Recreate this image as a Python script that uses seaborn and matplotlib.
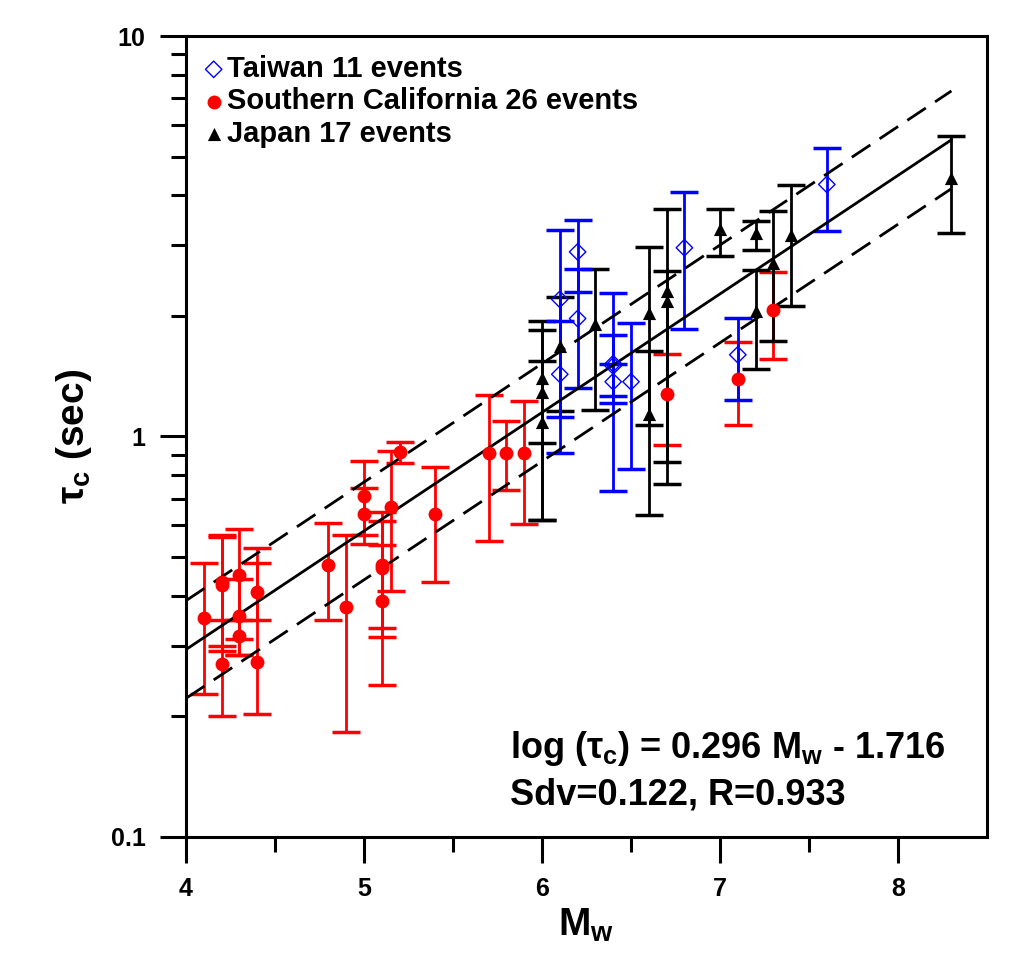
import numpy as np
import matplotlib
matplotlib.use("Agg")
import matplotlib.pyplot as plt
from matplotlib.ticker import FixedLocator, NullFormatter, FixedFormatter
import seaborn as sns

# Taiwan 11 events
mw_tw = [6.1, 6.1, 6.2, 6.2, 6.4, 6.4, 6.4, 6.5, 6.8, 7.1, 7.6]
tau_tw = [2.20, 1.43, 2.89, 1.97, 1.52, 1.50, 1.37, 1.37, 2.96, 1.60, 4.26]
lo_tw = [1.12, 0.91, 2.29, 1.32, 0.73, 1.26, 1.21, 0.83, 1.85, 1.23, 3.26]
hi_tw = [3.27, 1.94, 3.47, 2.62, 2.28, 1.79, 1.52, 1.92, 4.07, 1.98, 5.26]

# Southern California 26 events
mw_sc = [4.1, 4.2, 4.2, 4.2, 4.3, 4.3, 4.3, 4.4, 4.4, 4.8, 4.9, 5.0, 5.0,
         5.1, 5.1, 5.1, 5.15, 5.2, 5.4, 5.7, 5.8, 5.9, 6.7, 7.1, 7.3]
tau_sc = [0.353, 0.432, 0.425, 0.271, 0.450, 0.357, 0.317, 0.410, 0.274,
          0.479, 0.376, 0.710, 0.641, 0.479, 0.470, 0.388, 0.668, 0.914,
          0.639, 0.907, 0.907, 0.907, 1.280, 1.393, 2.064]
lo_sc = [0.228, 0.299, 0.292, 0.200, 0.313, 0.284, 0.284, 0.348, 0.203,
         0.349, 0.183, 0.540, 0.566, 0.315, 0.333, 0.240, 0.411, 0.860,
         0.434, 0.547, 0.734, 0.606, 0.951, 1.071, 1.563]
hi_sc = [0.482, 0.566, 0.560, 0.349, 0.589, 0.440, 0.349, 0.528, 0.482,
         0.609, 0.566, 0.868, 0.745, 0.647, 0.614, 0.535, 0.919, 0.968,
         0.840, 1.266, 1.092, 1.225, 1.609, 1.724, 2.572]

# Japan 17 events
mw_jp = [6.0, 6.0, 6.0, 6.1, 6.3, 6.6, 6.6, 6.7, 6.7, 7.0, 7.2, 7.2, 7.3, 7.4, 8.3]
tau_jp = [1.402, 1.290, 1.086, 1.687, 1.904, 2.036, 1.135, 2.306, 2.177,
          3.288, 3.226, 2.055, 2.715, 3.176, 4.426]
lo_jp = [0.965, 0.618, 0.618, 1.157, 1.163, 1.071, 0.635, 0.763, 0.863,
         2.83, 2.919, 1.476, 1.729, 2.116, 3.213]
hi_jp = [1.941, 1.840, 1.542, 2.228, 2.623, 2.970, 1.633, 3.703, 2.587,
         3.69, 3.449, 2.61, 3.653, 4.234, 5.62]

# regression from the figure text
slope, intercept, sdv = 0.296, -1.716, 0.122
fit_mw = [4.0, 8.3]

sns.set_style("ticks")
plt.rcParams['font.family'] = ['Liberation Sans', 'DejaVu Sans']
plt.rcParams['font.weight'] = 'bold'
plt.rcParams['mathtext.fontset'] = 'custom'
plt.rcParams['mathtext.rm'] = 'Liberation Sans:bold'
plt.rcParams['mathtext.it'] = 'Liberation Sans:bold'
plt.rcParams['mathtext.bf'] = 'Liberation Sans:bold'
for k in ('text.color', 'axes.labelcolor', 'xtick.color', 'ytick.color', 'axes.edgecolor'):
    plt.rcParams[k] = 'black'

fig = plt.figure(figsize=(10.24, 9.55), dpi=100)
ax = fig.add_axes([0.1816, 0.1236, 0.7823, 0.8387])


def bars(mw, tau, lo, hi, col):
    tau = np.array(tau)
    err = [tau - np.array(lo), np.array(hi) - tau]
    ax.errorbar(mw, tau, yerr=err, fmt='none', ecolor=col, elinewidth=2,
                capsize=10, capthick=2.5, zorder=2)


bars(mw_sc, tau_sc, lo_sc, hi_sc, 'red')
bars(mw_jp, tau_jp, lo_jp, hi_jp, 'black')
bars(mw_tw, tau_tw, lo_tw, hi_tw, 'blue')

fx = np.array(fit_mw)
fy = slope * fx + intercept
sns.lineplot(x=fx, y=10 ** fy, color='black', lw=2, ax=ax, zorder=3)
for off in (sdv, -sdv):
    sns.lineplot(x=fx, y=10 ** (fy + off), color='black', lw=2,
                 ax=ax, zorder=3).lines[-1].set_dashes((8, 4))

sns.scatterplot(x=mw_tw, y=tau_tw, marker='D', s=70, facecolors='none',
                edgecolors='blue', linewidths=1, label='Taiwan 11 events',
                ax=ax, zorder=4)
sns.scatterplot(x=mw_sc, y=tau_sc, marker='o', s=100, color='red', linewidth=0,
                label='Southern California 26 events', ax=ax, zorder=4)
sns.scatterplot(x=mw_jp, y=tau_jp, marker='^', s=90, color='black', linewidth=0,
                label='Japan 17 events', ax=ax, zorder=4)

ax.set_yscale('log')
ax.set_xlim(4, 8.5)
ax.set_ylim(0.1, 10)
ax.xaxis.set_major_locator(FixedLocator([4, 5, 6, 7, 8]))
ax.xaxis.set_minor_locator(FixedLocator([4.5, 5.5, 6.5, 7.5]))
ax.yaxis.set_major_locator(FixedLocator([0.1, 1, 10]))
ax.yaxis.set_major_formatter(FixedFormatter(['0.1', '1', '10']))
ax.yaxis.set_minor_locator(FixedLocator([k * 10.0 ** e for e in (-1, 0) for k in range(2, 10)]))
ax.yaxis.set_minor_formatter(NullFormatter())
ax.tick_params(which='major', length=19, width=2.2, labelsize=18, pad=10)
ax.tick_params(which='minor', length=11, width=2.2)
for sp in ax.spines.values():
    sp.set_linewidth(2.2)
    sp.set_visible(True)

ax.set_xlabel(r'M$_\mathrm{w}$', fontsize=28, fontweight='bold', labelpad=4)
ax.set_ylabel(r'$\tau_\mathrm{c}$ (sec)', fontsize=28, fontweight='bold', labelpad=12)

ax.text(0.405, 0.111, r'log ($\tau_\mathrm{c}$) = 0.296 M$_\mathrm{w}$ - 1.716',
        transform=ax.transAxes, fontsize=26, fontweight='bold', va='center')
ax.text(0.405, 0.052, 'Sdv=0.122, R=0.933', transform=ax.transAxes,
        fontsize=26, fontweight='bold', va='center')

leg = ax.legend(loc='upper left', frameon=False, fontsize=21, handlelength=0.6,
                handletextpad=0.15, labelspacing=0.15, borderaxespad=0.35,
                borderpad=0.3)
for t in leg.get_texts():
    t.set_fontweight('bold')

fig.savefig('out.png', dpi=100)
